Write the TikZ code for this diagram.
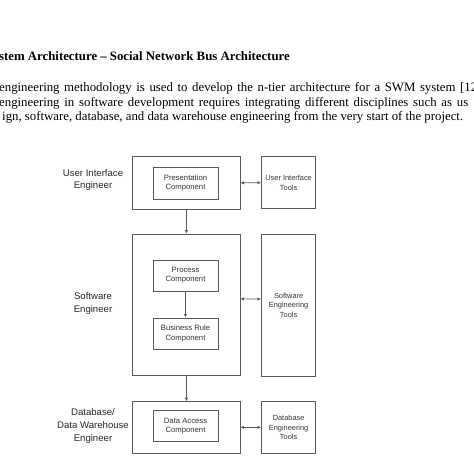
\documentclass[tikz,border=0pt]{standalone}
\usepackage{fontspec}
\setmainfont{Liberation Serif}
\newfontfamily\diagfont{Liberation Sans}
\usetikzlibrary{arrows.meta}
\begin{document}
\begin{tikzpicture}[x=1pt,y=-1pt,
  frame/.style={draw=black!65, line width=0.8pt, inner sep=0pt},
  comp/.style={frame, font=\diagfont\fontsize{7.7}{9.2}\selectfont, text=black!80, align=center},
  tool/.style={frame, font=\diagfont\fontsize{7.4}{9.6}\selectfont, text=black!80, align=center},
  role/.style={font=\diagfont\fontsize{9.6}{12.8}\selectfont, text=black!85, align=center},
  link/.style={draw=black!65, line width=0.7pt, -{Latex[length=3.6pt,width=3.4pt]}},
  dlink/.style={draw=black!65, line width=0.7pt, {Latex[length=3.6pt,width=3.4pt]}-{Latex[length=3.6pt,width=3.4pt]}},
  body/.style={anchor=base west, inner sep=0pt, font=\fontsize{12.8}{14}\selectfont}]
\useasboundingbox (0,0) rectangle (474,474);
\fill[white] (0,0) rectangle (474,474);

% text above
\node[body, font=\bfseries\fontsize{12.8}{14}\selectfont] (title) at (-1,60) {stem Architecture -- Social Network Bus Architecture};
\node[body] (l1) at (-1,91.5) {\makebox[478pt][s]{engineering methodology is used to develop the n-tier architecture for a SWM system [12}};
\node[body] (l2) at (-1,106) {\makebox[469pt][s]{engineering in software development requires integrating different disciplines such as us}};
\node[body] (l3) at (2,120.5) {ign, software, database, and data warehouse engineering from the very start of the project.};

% boxes
\node[frame, minimum width=107.3pt, minimum height=52.3pt] (uibox) at (186.35,182.85) {};
\node[comp, minimum width=65pt, minimum height=32pt] (pres) at (185.5,183) {Presentation\\Component};
\node[tool, minimum width=54.2pt, minimum height=52pt] (uitools) at (288.6,182.7) {User Interface\\Tools};

\node[frame, minimum width=107.3pt, minimum height=141.7pt] (swbox) at (186.35,304.85) {};
\node[comp, minimum width=65pt, minimum height=31pt] (proc) at (185.5,275.5) {Process\\Component};
\node[comp, minimum width=65pt, minimum height=31pt] (brule) at (185.5,333.5) {Business Rule\\Component};
\node[tool, minimum width=54.2pt, minimum height=142pt] (swtools) at (288.6,305) {Software\\Engineering\\Tools};

\node[frame, minimum width=107.3pt, minimum height=51.3pt] (dbbox) at (186.35,427.35) {};
\node[comp, minimum width=65pt, minimum height=31pt] (dacc) at (185.5,426.2) {Data Access\\Component};
\node[tool, minimum width=54.2pt, minimum height=51.3pt] (dbtools) at (288.6,427.35) {Database\\Engineering\\Tools};

% roles
\node[role] (r1) at (93,180) {User Interface\\Engineer};
\node[role] (r2) at (93,303.5) {Software\\Engineer};
\node[role] (r3) at (93,426) {Database/\\Data Warehouse\\Engineer};

% connectors
\draw[link] (uibox.south) -- (swbox.north);
\draw[link] (proc.south) -- (brule.north);
\draw[link] (swbox.south) -- (dbbox.north);
\draw[dlink] (uibox.east) -- (uitools.west);
\draw[dlink] ([yshift=6pt]swbox.east) -- ([yshift=6pt]swtools.west);
\draw[dlink] (dbbox.east) -- (dbtools.west);
\end{tikzpicture}
\end{document}
